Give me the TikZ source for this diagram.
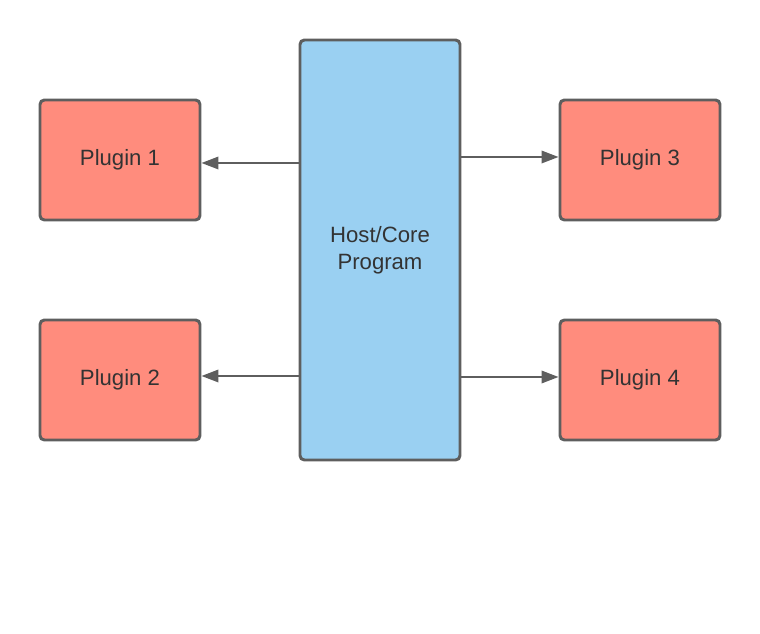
\documentclass[tikz,border=0pt]{standalone}
\usepackage{fontspec}
\setmainfont{Liberation Sans}
\usetikzlibrary{arrows.meta}
\definecolor{plugred}{HTML}{FF8C7D}
\definecolor{hostblue}{HTML}{9AD0F2}
\definecolor{edgegrey}{HTML}{5E5E5E}

\begin{document}
\begin{tikzpicture}[x=1cm, y=1cm, font=\fontsize{12.6}{15.4}\selectfont,
  box/.style = {draw=edgegrey, line width=1.7pt, rounded corners=2.5pt, align=center, text=black!80, inner sep=0pt},
  plugin/.style = {box, fill=plugred, minimum width=3.2cm, minimum height=2.4cm},
  arr/.style = {draw=edgegrey, line width=1.1pt, -{Triangle[length=0.34cm, width=0.25cm]}}]
\useasboundingbox (0,0) rectangle (15.2,-12.68);
\node[box, fill=hostblue, minimum width=3.2cm, minimum height=8.4cm] (host) at (7.6,-5.0) {Host/Core\\Program};
\node[plugin] (p1) at (2.4,-3.2) {Plugin 1};
\node[plugin] (p2) at (2.4,-7.6) {Plugin 2};
\node[plugin] (p3) at (12.8,-3.2) {Plugin 3};
\node[plugin] (p4) at (12.8,-7.6) {Plugin 4};
\draw[arr] ([yshift=-0.06cm]p1.east -| host.west) -- ([yshift=-0.06cm]p1.east);
\draw[arr] ([yshift=0.08cm]p2.east -| host.west) -- ([yshift=0.08cm]p2.east);
\draw[arr] ([yshift=0.06cm]p3.west -| host.east) -- ([yshift=0.06cm]p3.west);
\draw[arr] ([yshift=0.06cm]p4.west -| host.east) -- ([yshift=0.06cm]p4.west);
\end{tikzpicture}
\end{document}
